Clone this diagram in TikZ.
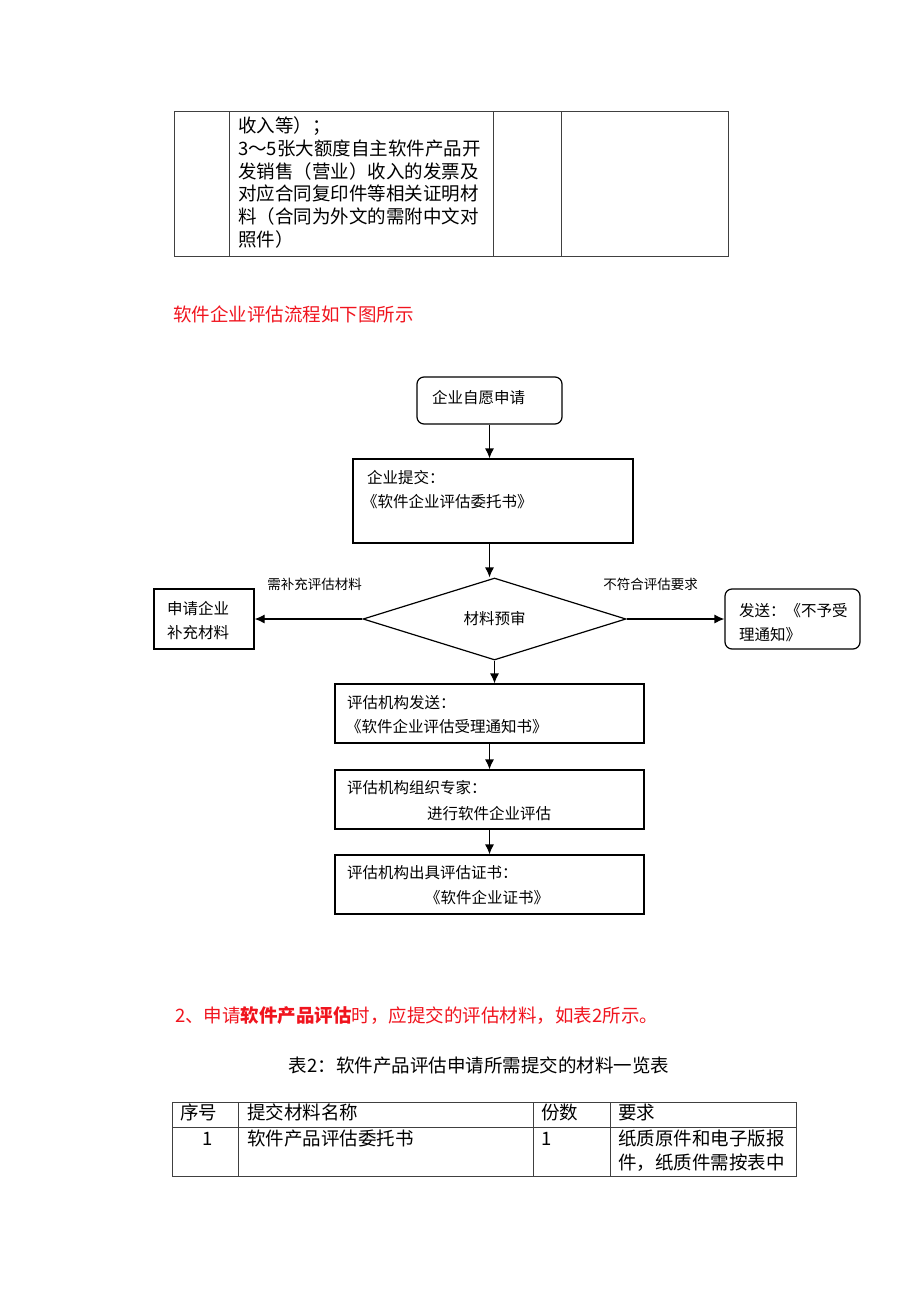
\documentclass[tikz,border=0pt]{standalone}
\usepackage{fontspec}
\setmainfont{Noto Sans CJK SC}
\usetikzlibrary{shapes.geometric,arrows.meta}
\definecolor{hred}{RGB}{240,20,30}
\newcommand{\tb}{\fontsize{18.5}{22.8}\selectfont}
\newcommand{\fc}{\fontsize{15.5}{19}\selectfont}
\newcommand{\lb}{\fontsize{13.5}{16}\selectfont}

\begin{document}
\begin{tikzpicture}[x=1pt,y=-1pt,
   box/.style={draw,line width=1.2pt,inner sep=0pt},
   rbox/.style={box,rounded corners=7pt},
   txt/.style={inner sep=0pt,anchor=west,text height=1.1em,text depth=0pt},
   arr/.style={line width=1.2pt,-{Latex[length=10pt,width=9pt]}},
   grid/.style={line width=0.9pt,draw=black!75}]
   \useasboundingbox (0,0) rectangle (920,1302);

   % end of table 1
   \draw[grid] (174,111) rectangle (728,256);
   \foreach \cx in {229,493,561} \draw[grid] (\cx,111) -- (\cx,256);
   \foreach \t [count=\i from 0] in {收入等）；,3～5张大额度自主软件产品开,发销售（营业）收入的发票及,对应合同复印件等相关证明材,料（合同为外文的需附中文对,照件）}
      \node[txt,font=\tb] (row\i) at (238,127+22.8*\i) {\t};

   \node[txt,font=\tb,text=hred] (flowhead) at (173,316) {软件企业评估流程如下图所示};

   % flow chart
   \node[rbox,minimum width=145pt,minimum height=47pt] (apply) at (489.5,400.5) {};
   \node[txt,font=\fc] (applyt) at (432,398) {企业自愿申请};

   \node[box,minimum width=280pt,minimum height=84pt] (submit) at (493,501) {};
   \node[txt,font=\fc] (submitt) at (367,478) {企业提交：};
   \node[txt,font=\fc] (submitb) at (362,502) {《软件企业评估委托书》};

   \node[draw,line width=1.2pt,diamond,aspect=3,inner sep=0pt,
         minimum width=263pt,minimum height=82pt,font=\fc] (check) at (494.5,619) {材料预审};

   \node[box,minimum width=100pt,minimum height=60pt] (supp) at (204,619) {};
   \node[txt,font=\fc] (suppa) at (167,609) {申请企业};
   \node[txt,font=\fc] (suppb) at (167,633) {补充材料};

   \node[rbox,minimum width=135pt,minimum height=60pt] (reject) at (792.5,619) {};
   \node[txt,font=\fc] (rejecta) at (739,611) {发送：《不予受};
   \node[txt,font=\fc] (rejectb) at (739,635) {理通知》};

   \node[font=\lb,inner sep=0pt] (needl) at (314.5,584) {需补充评估材料};
   \node[font=\lb,inner sep=0pt] (faill) at (650.5,584) {不符合评估要求};

   \node[box,minimum width=309pt,minimum height=59pt] (notice) at (489.5,713.5) {};
   \node[txt,font=\fc] (noticea) at (347,703) {评估机构发送：};
   \node[txt,font=\fc] (noticeb) at (346,727) {《软件企业评估受理通知书》};

   \node[box,minimum width=309pt,minimum height=59pt] (expert) at (489.5,799.5) {};
   \node[txt,font=\fc] (experta) at (347,788) {评估机构组织专家：};
   \node[font=\fc,inner sep=0pt] (expertb) at (489,814) {进行软件企业评估};

   \node[box,minimum width=309pt,minimum height=59pt] (cert) at (489.5,884.5) {};
   \node[txt,font=\fc] (certa) at (347,873) {评估机构出具评估证书：};
   \node[font=\fc,inner sep=0pt] (certb) at (487,898) {《软件企业证书》};

   \draw[arr] (apply.south) -- (apply.south |- submit.north);
   \draw[arr] (submit.south -| apply.south) -- (check.north -| apply.south);
   \draw[arr] (check.west) -- (supp.east);
   \draw[arr] (check.east) -- (reject.west);
   \draw[arr] (check.south) -- (check.south |- notice.north);
   \draw[arr] (notice.south) -- (expert.north);
   \draw[arr] (expert.south) -- (cert.north);

   % table 2
   \node[txt,font=\tb,text=hred] (prodhead) at (175,1017) {2、申请\textbf{软件产品评估}时，应提交的评估材料，如表2所示。};
   \node[font=\tb,inner sep=0pt] (tabcap) at (479,1065) {表2：软件产品评估申请所需提交的材料一览表};

   \draw[grid] (172,1102) rectangle (796,1176);
   \draw[grid] (172,1127) -- (796,1127);
   \foreach \cx in {238,533,610} \draw[grid] (\cx,1102) -- (\cx,1176);
   \node[txt,font=\tb] (hno)   at (180,1114) {序号};
   \node[txt,font=\tb] (hname) at (247,1114) {提交材料名称};
   \node[txt,font=\tb] (hnum)  at (541,1114) {份数};
   \node[txt,font=\tb] (hreq)  at (618,1114) {要求};
   \node[txt,font=\tb] (cno)   at (202,1140) {1};
   \node[txt,font=\tb] (cname) at (247,1140) {软件产品评估委托书};
   \node[txt,font=\tb] (cnum)  at (541,1140) {1};
   \node[txt,font=\tb] (creqa) at (618,1140) {纸质原件和电子版报};
   \node[txt,font=\tb] (creqb) at (618,1164) {件，纸质件需按表中};
\end{tikzpicture}
\end{document}
